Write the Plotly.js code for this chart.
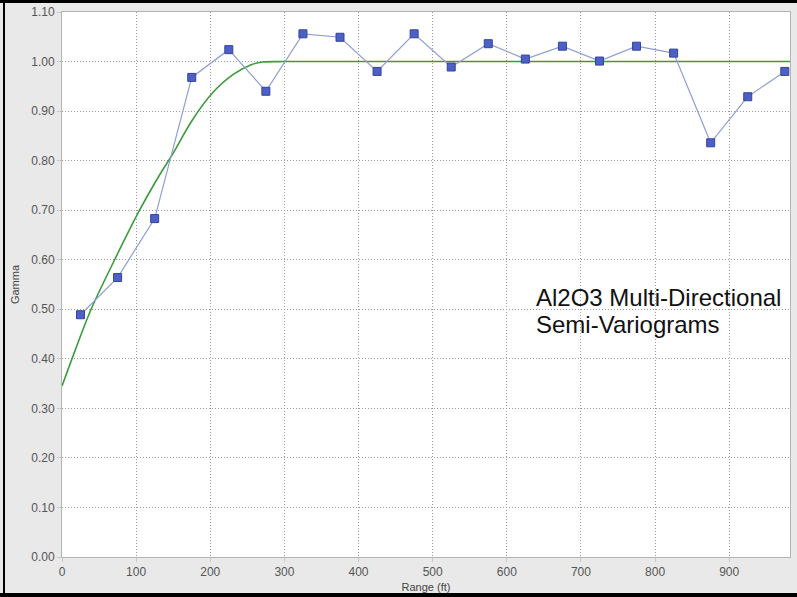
<!DOCTYPE html>
<html>
<head>
<meta charset="utf-8">
<script src="https://cdn.plot.ly/plotly-3.0.1.min.js"></script>
<style>
  html, body { margin: 0; padding: 0; background: #e9e9e9; }
  #wrap { position: relative; width: 797px; height: 597px; overflow: hidden; }
  #chart { position: absolute; left: 0; top: 0; width: 797px; height: 597px; }
  .bar { position: absolute; background: #000; }
</style>
</head>
<body>
<div id="wrap">
  <div id="chart"></div>
  <div class="bar" style="left:0;top:0;width:797px;height:3px;"></div>
  <div class="bar" style="left:3px;top:0;width:2px;height:597px;"></div>
  <div class="bar" style="left:0;top:593px;width:797px;height:4px;"></div>
</div>
<script>
// Experimental semi-variogram (lag distance in ft, gamma)
const lagRange = [25, 75, 125, 175, 225, 275, 325, 375, 425, 475, 525, 575, 625, 675, 725, 775, 825, 875, 925, 975];
const lagGamma = [0.489, 0.564, 0.683, 0.968, 1.024, 0.940, 1.056, 1.049, 0.980, 1.056, 0.989, 1.036, 1.005, 1.031, 1.001, 1.031, 1.017, 0.836, 0.929, 0.980];

// Fitted model curve
const modelRange = [0, 18, 39, 71, 105, 132, 150, 175, 202, 231, 256, 271, 300, 982];
const modelGamma = [0.345, 0.418, 0.499, 0.600, 0.701, 0.772, 0.815, 0.880, 0.935, 0.974, 0.994, 0.999, 1.000, 1.000];

const xTicks = [0, 100, 200, 300, 400, 500, 600, 700, 800, 900];
const yTicks = [0, 0.1, 0.2, 0.3, 0.4, 0.5, 0.6, 0.7, 0.8, 0.9, 1.0, 1.1];

const titleLines = ['Al2O3 Multi-Directional', 'Semi-Variograms'];

const traces = [
  {
    x: modelRange, y: modelGamma, type: 'scatter', mode: 'lines',
    line: { color: '#3c9c3c', width: 1.6, shape: 'spline', smoothing: 1 },
    hoverinfo: 'skip'
  },
  {
    x: lagRange, y: lagGamma, type: 'scatter', mode: 'lines+markers',
    line: { color: '#8e9ed6', width: 1.2 },
    marker: { symbol: 'square', size: 8, color: '#4d60c6', line: { color: '#34449c', width: 1 } }
  }
];

const axisFont = { family: 'Liberation Sans, Arial, sans-serif', size: 12, color: '#555555' };
const txtFont = { family: 'Liberation Sans, Arial, sans-serif', size: 24, color: '#111111' };

const layout = {
  width: 797, height: 597,
  margin: { l: 62, r: 7, t: 12, b: 40 },
  paper_bgcolor: 'rgba(0,0,0,0)',
  plot_bgcolor: '#ffffff',
  showlegend: false,
  xaxis: {
    range: [0, 982], tickvals: xTicks, ticktext: xTicks.map(String),
    showgrid: true, gridcolor: '#9a9a9a', griddash: '1px,2px', gridwidth: 1,
    zeroline: false, showline: true, linecolor: '#b4b4b4', mirror: true,
    ticks: 'outside', ticklen: 4, tickcolor: '#c8c8c8',
    tickfont: axisFont,
    title: { text: 'Range (ft)', font: { family: 'Liberation Sans, Arial, sans-serif', size: 11, color: '#444444' }, standoff: 4 }
  },
  yaxis: {
    range: [0, 1.1], tickvals: yTicks, tickformat: '.2f',
    showgrid: true, gridcolor: '#9a9a9a', griddash: '1px,2px', gridwidth: 1,
    zeroline: false, showline: true, linecolor: '#b4b4b4', mirror: true,
    ticks: 'outside', ticklen: 4, tickcolor: '#c8c8c8',
    tickfont: axisFont,
    title: { text: 'Gamma', font: { family: 'Liberation Sans, Arial, sans-serif', size: 11, color: '#444444' }, standoff: 9 }
  },
  annotations: [
    { xref: 'paper', yref: 'paper', x: 0.649, y: 0.477, xanchor: 'left', yanchor: 'middle',
      showarrow: false, text: titleLines[0], font: txtFont },
    { xref: 'paper', yref: 'paper', x: 0.649, y: 0.4257, xanchor: 'left', yanchor: 'middle',
      showarrow: false, text: titleLines[1], font: txtFont }
  ]
};

Plotly.newPlot('chart', traces, layout, { displayModeBar: false, staticPlot: true });
</script>
</body>
</html>
